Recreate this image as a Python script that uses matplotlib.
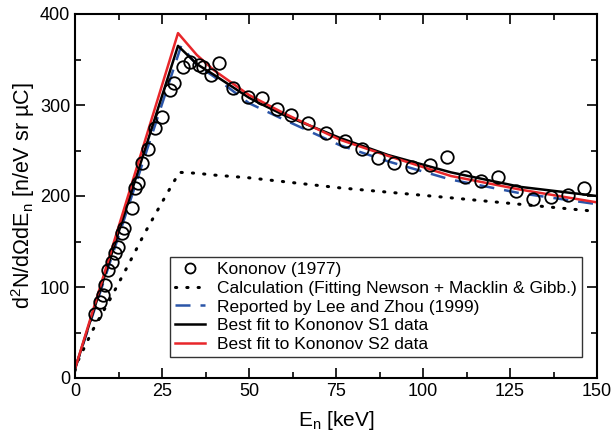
import matplotlib
matplotlib.use('Agg')
import matplotlib.pyplot as plt
from matplotlib.ticker import MultipleLocator

plt.rcParams['font.family'] = ['Liberation Sans', 'DejaVu Sans']
plt.rcParams['mathtext.fontset'] = 'custom'
plt.rcParams['mathtext.rm'] = 'Liberation Sans'
plt.rcParams['mathtext.it'] = 'Liberation Sans:italic'

# Kononov (1977) measured points
e_exp = [5.75, 7.2, 8.0, 8.6, 9.5, 10.6, 11.5, 12.4, 13.5, 14.1, 16.4, 17.2, 18.1,
         19.3, 21.0, 23.0, 25.0, 27.3, 28.4, 31.0, 33.0, 35.6, 36.8, 39.1, 41.4,
         45.4, 49.7, 53.7, 58.0, 62.1, 67.0, 72.1, 77.6, 82.5, 87.1, 91.7, 96.8,
         102.0, 106.9, 112.1, 116.7, 121.6, 126.7, 131.6, 136.8, 141.7, 146.3]
y_exp = [70, 84, 91, 102, 119, 127, 137, 144, 159, 165, 187, 209, 214,
         236, 252, 275, 287, 316, 324, 342, 347, 344, 342, 333, 346,
         319, 309, 308, 296, 289, 280, 269, 260, 252, 242, 236, 232,
         234, 243, 221, 216, 221, 205, 197, 199, 201, 209]

# calculation (Newson + Macklin & Gibbons fit)
e_calc = [0, 1, 5, 10, 15, 20, 25, 28, 30, 35, 40, 50, 76, 108, 150]
y_calc = [8, 20, 52, 86, 122, 159, 193, 213, 226, 225, 223, 220, 209, 198, 183]

# Lee and Zhou (1999)
e_lee = [0, 30.5, 35, 40, 50, 60, 76, 90, 108, 128, 150]
y_lee = [10, 365, 344, 331, 302, 284, 256, 238, 218, 203, 191]

# best fit, S1 data
e_s1 = [0, 29.6, 35, 40, 50, 53, 60, 76, 90, 108, 128, 150]
y_s1 = [10, 365, 345, 333, 308, 302, 289, 264, 245, 226, 210, 200]

# best fit, S2 data
e_s2 = [0, 29.6, 35, 40, 50, 60, 76, 90, 108, 128, 150]
y_s2 = [10, 379, 355, 338, 311, 291, 262, 244, 222, 207, 193]

fig = plt.figure(figsize=(6.12, 4.37), dpi=100)
ax = fig.add_axes([75 / 612, 1 - 378 / 437, 522 / 612, 364 / 437])

ax.plot(e_exp, y_exp, 'o', mfc='none', mec='black', mew=1.3, ms=9,
        label='Kononov (1977)', zorder=3)
ax.plot(e_calc, y_calc, color='black', lw=2.2, ls=(0, (0.4, 3.3)),
        dash_capstyle='round', label='Calculation (Fitting Newson + Macklin & Gibb.)')
ax.plot(e_lee, y_lee, color='#2b55a8', lw=1.8, ls=(0, (6, 4)),
        label='Reported by Lee and Zhou (1999)')
ax.plot(e_s1, y_s1, color='black', lw=1.8, label='Best fit to Kononov S1 data')
ax.plot(e_s2, y_s2, color='#e8262a', lw=1.8, label='Best fit to Kononov S2 data')

ax.set_xlim(0, 150)
ax.set_ylim(0, 400)
ax.xaxis.set_major_locator(MultipleLocator(25))
ax.xaxis.set_minor_locator(MultipleLocator(12.5))
ax.yaxis.set_major_locator(MultipleLocator(100))
ax.yaxis.set_minor_locator(MultipleLocator(50))
ax.tick_params(which='both', direction='in', top=True, right=True, labelsize=13, width=1.2)
ax.tick_params(which='major', length=7)
ax.tick_params(which='minor', length=4)
for s in ax.spines.values():
    s.set_linewidth(1.5)

ax.set_xlabel('E$_\\mathrm{n}$ [keV]', fontsize=15)
ax.set_ylabel('d$^\\mathrm{2}$N/dΩdE$_\\mathrm{n}$ [n/eV sr µC]', fontsize=15.5)
ax.yaxis.set_label_coords(-0.073, 0.5)
ax.xaxis.set_label_coords(0.5, -0.085)

leg = ax.legend(loc='lower right', bbox_to_anchor=(1 - 15 / 522, 21 / 364),
                fontsize=12.5, frameon=True, fancybox=False, handlelength=1.7,
                markerscale=0.8, borderpad=0.3, labelspacing=0.2,
                handletextpad=0.7, borderaxespad=0)
leg.get_frame().set_edgecolor('black')
leg.get_frame().set_linewidth(1.0)

fig.savefig('out.png', dpi=100)
